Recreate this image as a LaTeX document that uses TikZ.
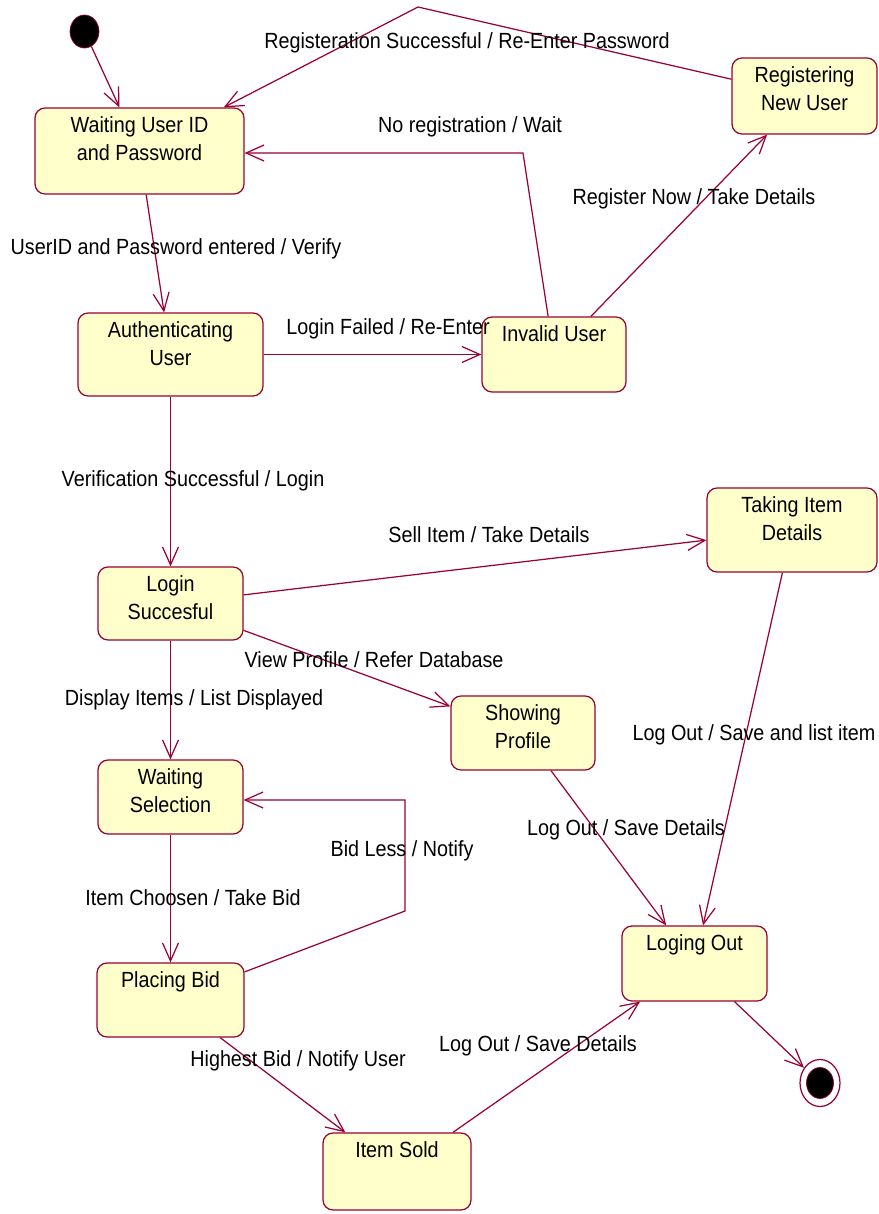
\documentclass[tikz,border=0pt]{standalone}
\usepackage{fontspec}
\setmainfont{Liberation Sans}[FakeStretch=0.9]
\usepackage{tikz}
\usetikzlibrary{arrows.meta,shapes.geometric}

\definecolor{umlred}{RGB}{153,0,51}
\definecolor{umlfill}{RGB}{255,255,204}

\tikzset{
  state/.style={draw=umlred, fill=umlfill, line width=0.7pt, rounded corners=0.2cm, inner sep=0pt},
  boxsize/.style 2 args={minimum width=#1, minimum height=#2},
  title/.style={anchor=north, align=center, inner sep=0pt, yshift=-0.17cm},
  event/.style={inner sep=1pt},
  trans/.style={draw=umlred, line width=0.7pt, -{Straight Barb[length=0.36cm, width=0.32cm]}},
  initial/.style={ellipse, draw=umlred, fill=black, minimum width=0.58cm, minimum height=0.66cm, inner sep=0pt},
  final/.style={ellipse, draw=umlred, fill=white, line width=0.7pt, minimum width=0.8cm, minimum height=0.94cm, inner sep=0pt},
}

\begin{document}
\begin{tikzpicture}[x=0.02cm, y=-0.02cm, font=\fontsize{12.5}{15.9}\selectfont]
  \useasboundingbox (0,0) rectangle (879,1214);

  % states
  \node[initial] (start) at (84.5,31.5) {};
  \node[state, boxsize={4.18cm}{1.72cm}, label={[title]north:Waiting User ID\\and Password}] (wuid) at (139.5,151) {};
  \node[state, boxsize={3.70cm}{1.66cm}, label={[title]north:Authenticating\\User}] (auth) at (170.5,354.5) {};
  \node[state, boxsize={2.88cm}{1.50cm}, label={[title]north:Invalid User}] (invalid) at (554,354.5) {};
  \node[state, boxsize={2.90cm}{1.52cm}, label={[title]north:Registering\\New User}] (reg) at (804.5,96) {};
  \node[state, boxsize={3.40cm}{1.68cm}, label={[title]north:Taking Item\\Details}] (taking) at (792,530) {};
  \node[state, boxsize={2.90cm}{1.46cm}, label={[title]north:Login\\Succesful}] (login) at (170.5,603.5) {};
  \node[state, boxsize={2.88cm}{1.48cm}, label={[title]north:Showing\\Profile}] (showing) at (523,733) {};
  \node[state, boxsize={2.90cm}{1.48cm}, label={[title]north:Waiting\\Selection}] (waitsel) at (170.5,797) {};
  \node[state, boxsize={2.94cm}{1.48cm}, label={[title]north:Placing Bid}] (placing) at (170.5,1000) {};
  \node[state, boxsize={2.96cm}{1.54cm}, label={[title]north:Item Sold}] (sold) at (397,1171.5) {};
  \node[state, boxsize={2.90cm}{1.50cm}, label={[title]north:Loging Out}] (logout) at (694.5,963.5) {};
  \node[final] (end) at (820,1083) {};
  \node[ellipse, fill=black, draw=umlred, minimum width=0.54cm, minimum height=0.62cm, inner sep=0pt] (endin) at (end) {};

  % bends
  \coordinate (regbend) at (418,7);
  \coordinate (noreg) at (523,153);
  \coordinate (bidlow) at (405,911);
  \coordinate (bidhigh) at (405,800);

  % transitions
  \draw[trans] (start) -- (wuid);
  \draw[trans] (reg) -- (regbend) -- (wuid);
  \draw[trans] (invalid) -- (noreg) -- (noreg -| wuid.east);
  \draw[trans] (wuid) -- (auth);
  \draw[trans] (auth) -- (invalid);
  \draw[trans] (invalid) -- (reg);
  \draw[trans] (auth) -- (login);
  \draw[trans] (login) -- (taking);
  \draw[trans] (login) -- (showing);
  \draw[trans] (login) -- (waitsel);
  \draw[trans] (waitsel) -- (placing);
  \draw[trans] (placing) -- (bidlow) -- (bidhigh) -- (bidhigh -| waitsel.east);
  \draw[trans] (placing) -- (sold);
  \draw[trans] (sold) -- (logout);
  \draw[trans] (showing) -- (logout);
  \draw[trans] (taking) -- (logout);
  \draw[trans] (logout) -- (end);

  % events / actions
  \node[event] (e-regok) at (467,43) {Registeration Successful / Re-Enter Password};
  \node[event] (e-noreg) at (470,127) {No registration / Wait};
  \node[event] (e-regnow) at (694,199) {Register Now / Take Details};
  \node[event] (e-enter) at (176,249) {UserID and Password entered / Verify};
  \node[event] (e-failed) at (388,329) {Login Failed / Re-Enter};
  \node[event] (e-verified) at (193,481) {Verification Successful / Login};
  \node[event] (e-sell) at (489,535) {Sell Item / Take Details};
  \node[event] (e-profile) at (374,660) {View Profile / Refer Database};
  \node[event] (e-display) at (194,700) {Display Items / List Displayed};
  \node[event] (e-savelist) at (754,735) {Log Out / Save and list item};
  \node[event] (e-saveprof) at (626,830) {Log Out / Save Details};
  \node[event] (e-bidless) at (402,851) {Bid Less / Notify};
  \node[event] (e-chosen) at (193,898) {Item Choosen / Take Bid};
  \node[event] (e-highest) at (298,1061) {Highest Bid / Notify User};
  \node[event] (e-savesold) at (538,1046) {Log Out / Save Details};
\end{tikzpicture}
\end{document}
